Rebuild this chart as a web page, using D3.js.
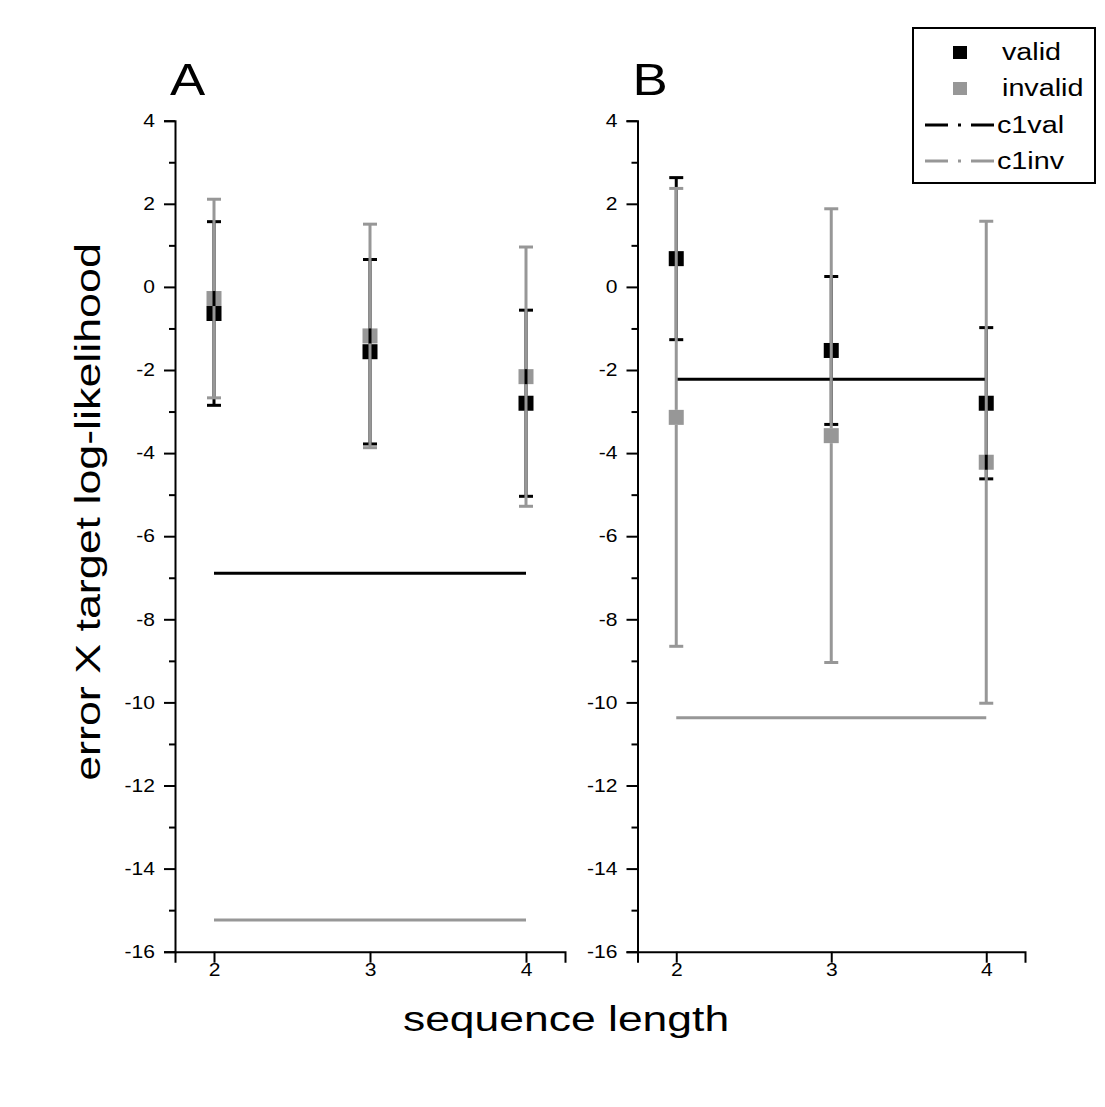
<!DOCTYPE html>
<html>
<head>
<meta charset="utf-8">
<title>error X target log-likelihood</title>
<script src="https://d3js.org/d3.v7.min.js"></script>
<style>
  body { margin: 0; background: #fff; }
  text { font-family: "Liberation Sans", Arial, sans-serif; }
</style>
</head>
<body>
<div id="chart"></div>
<script>
// data
var seqLength = [2, 3, 4];
var panels = ["A", "B"];

// panel A
var aValidMean = [-0.64, -1.56, -2.80];
var aValidErr = [2.21, 2.22, 2.24];
var aInvalidMean = [-0.28, -1.18, -2.16];
var aInvalidErr = [2.39, 2.69, 3.12];
var aC1val = -6.89;
var aC1inv = -15.24;

// panel B
var bValidMean = [0.68, -1.53, -2.80];
var bValidErr = [1.95, 1.78, 1.82];
var bInvalidMean = [-3.14, -3.58, -4.22];
var bInvalidErr = [5.51, 5.46, 5.80];
var bC1val = -2.22;
var bC1inv = -10.37;

var yMajor = [4, 2, 0, -2, -4, -6, -8, -10, -12, -14, -16];
var yMinor = [3, 1, -1, -3, -5, -7, -9, -11, -13, -15];

var legendItems = ["valid", "invalid", "c1val", "c1inv"];

var black = "#000000", grey = "#979797";

var svg = d3.select("#chart").append("svg")
    .attr("width", 1105)
    .attr("height", 1107);

// the original font is wider than Liberation Sans, so text gets stretched sideways
function wideText(parent, x, y, size, sx, str, anchor, rot) {
    return parent.append("text")
        .attr("transform", "translate(" + x + "," + y + ")" + (rot ? " rotate(" + rot + ")" : "") + " scale(" + sx + ",1)")
        .attr("text-anchor", anchor || "start")
        .style("font-size", size + "px")
        .text(str);
}

var y = d3.scaleLinear().domain([-16, 4]).range([951.7, 120.7]);

var panelData = [
    { name: panels[0], left: 175, right: 565, valid: aValidMean, validErr: aValidErr,
      invalid: aInvalidMean, invalidErr: aInvalidErr, c1val: aC1val, c1inv: aC1inv },
    { name: panels[1], left: 637.5, right: 1025, valid: bValidMean, validErr: bValidErr,
      invalid: bInvalidMean, invalidErr: bInvalidErr, c1val: bC1val, c1inv: bC1inv }
];

var sq = 15;   // symbol size
var cap = 14;  // error bar cap width
var tsx = 1.17; // tick label stretch

panelData.forEach(function (p) {
    var x = d3.scaleLinear().domain([1.75, 4.25]).range([p.left, p.right]);
    var g = svg.append("g");

    // y axis, major + minor ticks
    g.append("g")
        .attr("transform", "translate(" + p.left + ",0)")
        .call(d3.axisLeft(y).tickValues(yMajor).tickSize(11).tickPadding(9)
            .tickFormat(function (d) { return String(d); }))
        .selectAll(".tick text")
        .attr("x", -20 / tsx)
        .attr("transform", "scale(" + tsx + ",1)");
    g.append("g")
        .attr("transform", "translate(" + p.left + ",0)")
        .call(d3.axisLeft(y).tickValues(yMinor).tickSize(6).tickFormat(""))
        .select(".domain").remove();

    // x axis
    g.append("g")
        .attr("transform", "translate(0," + y(-16) + ")")
        .call(d3.axisBottom(x).tickValues(seqLength).tickSize(11).tickPadding(1)
            .tickFormat(function (d) { return String(d); }))
        .selectAll(".tick text")
        .attr("transform", "scale(" + tsx + ",1)");

    g.selectAll(".domain").attr("stroke-width", 2);
    g.selectAll(".tick line").attr("stroke-width", 2);
    g.selectAll(".tick text").style("font-size", "18px").attr("fill", "#000");

    // horizontal c1 lines
    g.append("line")
        .attr("x1", x(2)).attr("x2", x(4))
        .attr("y1", y(p.c1val)).attr("y2", y(p.c1val))
        .attr("stroke", black).attr("stroke-width", 3);
    g.append("line")
        .attr("x1", x(2)).attr("x2", x(4))
        .attr("y1", y(p.c1inv)).attr("y2", y(p.c1inv))
        .attr("stroke", grey).attr("stroke-width", 3);

    // symbols first
    g.selectAll(".vsq").data(seqLength).enter().append("rect")
        .attr("x", function (d) { return x(d) - sq / 2; })
        .attr("y", function (d, i) { return y(p.valid[i]) - sq / 2; })
        .attr("width", sq).attr("height", sq)
        .attr("fill", black);
    g.selectAll(".isq").data(seqLength).enter().append("rect")
        .attr("x", function (d) { return x(d) - sq / 2; })
        .attr("y", function (d, i) { return y(p.invalid[i]) - sq / 2; })
        .attr("width", sq).attr("height", sq)
        .attr("fill", grey);

    // error bars, leaving a gap at their own symbol
    function errorBars(mean, err, color) {
        seqLength.forEach(function (d, i) {
            var cx = x(d), cy = y(mean[i]);
            var top = y(mean[i] + err[i]), bot = y(mean[i] - err[i]);
            g.append("line").attr("x1", cx).attr("x2", cx)
                .attr("y1", top).attr("y2", cy - sq / 2)
                .attr("stroke", color).attr("stroke-width", 3);
            g.append("line").attr("x1", cx).attr("x2", cx)
                .attr("y1", cy + sq / 2).attr("y2", bot)
                .attr("stroke", color).attr("stroke-width", 3);
            [top, bot].forEach(function (yy) {
                g.append("line").attr("x1", cx - cap / 2).attr("x2", cx + cap / 2)
                    .attr("y1", yy).attr("y2", yy)
                    .attr("stroke", color).attr("stroke-width", 3);
            });
        });
    }
    errorBars(p.valid, p.validErr, black);
    errorBars(p.invalid, p.invalidErr, grey);

    // panel letter
    wideText(svg, p.left - 5, 95, 44, 1.2, p.name);
});

// axis titles
wideText(svg, 100, 512, 35, 1.28, "error X target log-likelihood", "middle", -90);
wideText(svg, 566, 1031, 35, 1.27, "sequence length", "middle");

// legend
var legendRows = [52, 88, 125, 161];
var lg = svg.append("g");
lg.append("rect")
    .attr("x", 913).attr("y", 28).attr("width", 182).attr("height", 155)
    .attr("fill", "#fff").attr("stroke", "#000").attr("stroke-width", 2);

lg.append("rect").attr("x", 953).attr("y", legendRows[0] - 6)
    .attr("width", 14).attr("height", 13).attr("fill", black);
lg.append("rect").attr("x", 953).attr("y", legendRows[1] - 6)
    .attr("width", 14).attr("height", 13).attr("fill", grey);
lg.append("line").attr("x1", 925).attr("x2", 994)
    .attr("y1", legendRows[2]).attr("y2", legendRows[2])
    .attr("stroke", black).attr("stroke-width", 3)
    .attr("stroke-dasharray", "23,10,3,10,23");
lg.append("line").attr("x1", 925).attr("x2", 994)
    .attr("y1", legendRows[3]).attr("y2", legendRows[3])
    .attr("stroke", grey).attr("stroke-width", 3)
    .attr("stroke-dasharray", "23,10,3,10,23");

legendItems.forEach(function (d, i) {
    wideText(lg, i < 2 ? 1002 : 997, legendRows[i] + 8, 23, 1.25, d);
});
</script>
</body>
</html>
